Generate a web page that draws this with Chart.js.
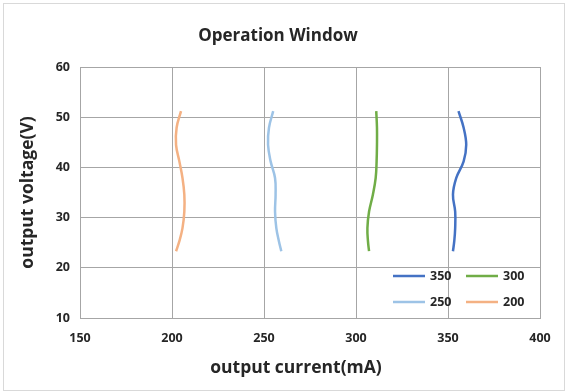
<!DOCTYPE html>
<html>
<head>
<meta charset="utf-8">
<script src="https://cdn.jsdelivr.net/npm/chart.js@4"></script>
<style>
  html, body { margin: 0; padding: 0; background: #fff; }
  #wrap { width: 568px; height: 392px; position: relative; }
</style>
</head>
<body>
<div id="wrap"><canvas id="c" width="568" height="392"></canvas></div>
<script>
// Output voltage (V) sampled along each curve, top to bottom
const voltages = [51.2, 47.9, 44.5, 41.2, 37.9, 34.6, 31.2, 27.9, 25.3, 23.3];

// Output current (mA) at each voltage, one list per set point
const seriesLabels = ['350', '300', '250', '200'];
const current350 = [355.7, 358.5, 359.9, 358.5, 354.5, 352.7, 353.9, 353.9, 353.4, 352.7];
const current300 = [311.0, 311.4, 311.4, 311.2, 310.7, 309.2, 307.1, 306.2, 306.5, 307.1];
const current250 = [255.0, 252.7, 252.2, 253.6, 256.0, 256.3, 256.0, 256.7, 258.1, 259.4];
const current200 = [204.9, 202.5, 202.2, 204.0, 205.7, 206.7, 206.7, 205.7, 204.0, 202.2];

const xTicks = [150, 200, 250, 300, 350, 400];
const yTicks = [10, 20, 30, 40, 50, 60];

const chartTitle = 'Operation Window';
const xTitle = 'output current(mA)';
const yTitle = 'output voltage(V)';

const colors = ['#4472C4', '#70AD47', '#9DC3E6', '#F4B183'];
const FONT = '"Open Sans", "Noto Sans", sans-serif';
const TEXT = '#262626';

const toPoints = (xs) => xs.map((x, i) => ({ x: x, y: voltages[i] }));
const seriesValues = [current350, current300, current250, current200];

const datasets = seriesValues.map((vals, i) => ({
  label: seriesLabels[i],
  data: toPoints(vals),
  borderColor: colors[i],
  backgroundColor: colors[i],
  borderWidth: 2.5,
  pointRadius: 0,
  showLine: true,
  tension: 0.4,
  fill: false
}));

// Frame, titles and the 2x2 legend inside the plot
const decorations = {
  id: 'decorations',
  beforeDraw(chart) {
    const ctx = chart.ctx;
    ctx.save();
    ctx.fillStyle = '#fff';
    ctx.fillRect(0, 0, chart.width, chart.height);
    ctx.strokeStyle = '#d9d9d9';
    ctx.lineWidth = 1;
    ctx.strokeRect(3.5, 3.5, chart.width - 7, chart.height - 5);
    ctx.restore();
  },
  afterDraw(chart) {
    const ctx = chart.ctx;
    const a = chart.chartArea;
    ctx.save();
    ctx.fillStyle = TEXT;
    ctx.textAlign = 'center';
    ctx.textBaseline = 'middle';
    ctx.font = 'bold 17px ' + FONT;
    ctx.fillText(chartTitle, 278, 36);
    ctx.font = 'bold 17.5px ' + FONT;
    ctx.fillText(xTitle, 296, 368);
    ctx.translate(28, (a.top + a.bottom) / 2);
    ctx.rotate(-Math.PI / 2);
    ctx.fillText(yTitle, 0, 0);
    ctx.restore();

    // legend
    ctx.save();
    ctx.font = 'bold 12.5px ' + FONT;
    ctx.textAlign = 'left';
    ctx.textBaseline = 'middle';
    const cols = [a.left + 313, a.left + 386];
    const rows = [a.bottom - 42, a.bottom - 16];
    chart.data.datasets.forEach((ds, i) => {
      const x = cols[i % 2];
      const y = rows[Math.floor(i / 2)];
      ctx.strokeStyle = ds.borderColor;
      ctx.lineWidth = 2.5;
      ctx.beginPath();
      ctx.moveTo(x, y);
      ctx.lineTo(x + 32, y);
      ctx.stroke();
      ctx.fillStyle = TEXT;
      ctx.fillText(ds.label, x + 37, y + 0.5);
    });
    ctx.restore();
  }
};

new Chart(document.getElementById('c'), {
  type: 'scatter',
  data: { datasets: datasets },
  options: {
    responsive: false,
    animation: false,
    layout: { padding: { left: 0, top: 67, right: 28, bottom: 0 } },
    plugins: {
      legend: { display: false },
      title: { display: false },
      tooltip: { enabled: false }
    },
    scales: {
      x: {
        type: 'linear',
        min: 150, max: 400,
        afterBuildTicks: (s) => { s.ticks = xTicks.map(v => ({ value: v })); },
        afterFit: (s) => { s.height = 74; },
        grid: { color: '#a6a6a6', lineWidth: 1, drawTicks: false },
        border: { color: '#a6a6a6', width: 1 },
        ticks: { color: TEXT, font: { family: FONT, size: 12.5, weight: 'bold' }, padding: 13, maxRotation: 0 }
      },
      y: {
        type: 'linear',
        min: 10, max: 60,
        afterBuildTicks: (s) => { s.ticks = yTicks.map(v => ({ value: v })); },
        afterFit: (s) => { s.width = 80; },
        grid: { color: '#a6a6a6', lineWidth: 1, drawTicks: false },
        border: { color: '#a6a6a6', width: 1 },
        ticks: { color: TEXT, font: { family: FONT, size: 12.5, weight: 'bold' }, padding: 10 }
      }
    }
  },
  plugins: [decorations]
});
</script>
</body>
</html>
